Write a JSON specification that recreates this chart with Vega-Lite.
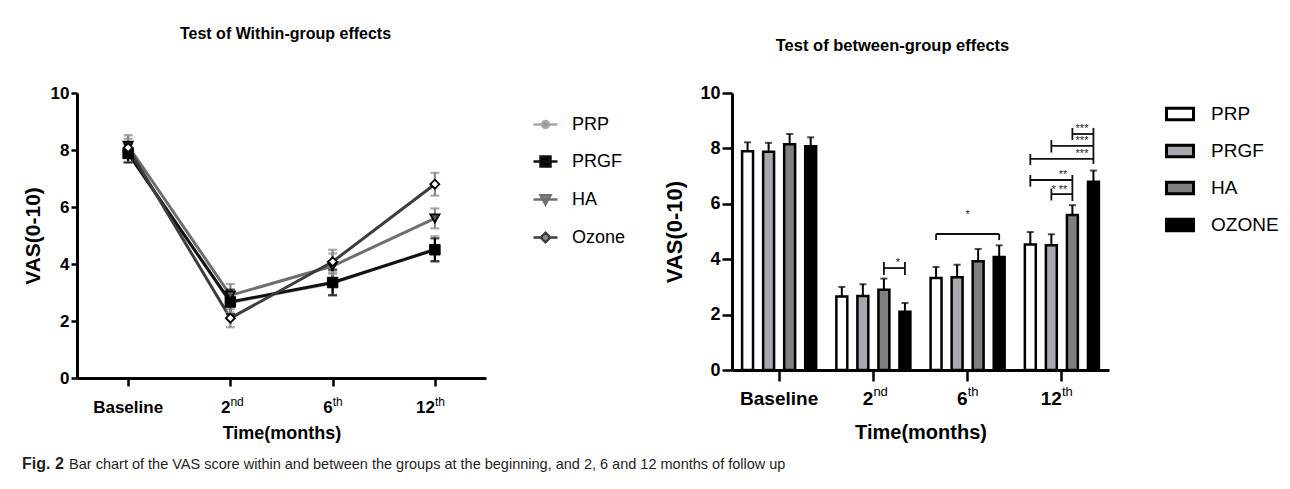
{
  "$schema": "https://vega.github.io/schema/vega-lite/v6.json",
  "background": "white",
  "padding": {"left": 22, "top": 26, "right": 5, "bottom": 5},
  "config": {
    "view": {"stroke": null},
    "axis": {"domainColor": "black", "tickColor": "black", "labelColor": "black", "titleColor": "black", "grid": false},
    "font": "Liberation Sans"
  },
  "datasets": {
    "vas": [
      {"time": "Baseline", "group": "PRP", "mean": 7.9, "lo": 7.58, "hi": 8.22},
      {"time": "Baseline", "group": "PRGF", "mean": 7.88, "lo": 7.56, "hi": 8.2},
      {"time": "Baseline", "group": "HA", "mean": 8.15, "lo": 7.78, "hi": 8.52},
      {"time": "Baseline", "group": "OZONE", "mean": 8.08, "lo": 7.76, "hi": 8.4},
      {"time": "2nd", "group": "PRP", "mean": 2.65, "lo": 2.3, "hi": 3.0},
      {"time": "2nd", "group": "PRGF", "mean": 2.67, "lo": 2.24, "hi": 3.1},
      {"time": "2nd", "group": "HA", "mean": 2.9, "lo": 2.5, "hi": 3.3},
      {"time": "2nd", "group": "OZONE", "mean": 2.1, "lo": 1.78, "hi": 2.42},
      {"time": "6th", "group": "PRP", "mean": 3.32, "lo": 2.92, "hi": 3.72},
      {"time": "6th", "group": "PRGF", "mean": 3.35, "lo": 2.9, "hi": 3.8},
      {"time": "6th", "group": "HA", "mean": 3.93, "lo": 3.49, "hi": 4.37},
      {"time": "6th", "group": "OZONE", "mean": 4.08, "lo": 3.66, "hi": 4.5},
      {"time": "12th", "group": "PRP", "mean": 4.53, "lo": 4.08, "hi": 4.98},
      {"time": "12th", "group": "PRGF", "mean": 4.5, "lo": 4.1, "hi": 4.9},
      {"time": "12th", "group": "HA", "mean": 5.6, "lo": 5.25, "hi": 5.95},
      {"time": "12th", "group": "OZONE", "mean": 6.8, "lo": 6.4, "hi": 7.2}
    ],
    "xlab": [
      {"time": "Baseline", "base": "Baseline", "sup": ""},
      {"time": "2nd", "base": "2", "sup": "nd"},
      {"time": "6th", "base": "6", "sup": "th"},
      {"time": "12th", "base": "12", "sup": "th"}
    ],
    "brl": [
      {"id": "b0", "time": "2nd", "grp": "HA", "y": 3.68},
      {"id": "b0", "time": "2nd", "grp": "OZONE", "y": 3.68},
      {"id": "b1", "time": "6th", "grp": "PRP", "y": 4.91},
      {"id": "b1", "time": "6th", "grp": "OZONE", "y": 4.91},
      {"id": "b2", "time": "12th", "grp": "HA", "y": 8.52},
      {"id": "b2", "time": "12th", "grp": "OZONE", "y": 8.52},
      {"id": "b3", "time": "12th", "grp": "PRGF", "y": 8.09},
      {"id": "b3", "time": "12th", "grp": "OZONE", "y": 8.09},
      {"id": "b4", "time": "12th", "grp": "PRP", "y": 7.62},
      {"id": "b4", "time": "12th", "grp": "OZONE", "y": 7.62},
      {"id": "b5", "time": "12th", "grp": "PRP", "y": 6.86},
      {"id": "b5", "time": "12th", "grp": "HA", "y": 6.86},
      {"id": "b6", "time": "12th", "grp": "PRGF", "y": 6.35},
      {"id": "b6", "time": "12th", "grp": "HA", "y": 6.35}
    ],
    "brt": [
      {"time": "2nd", "grp": "HA", "y1": 3.43, "y2": 3.9},
      {"time": "2nd", "grp": "OZONE", "y1": 3.43, "y2": 3.9},
      {"time": "6th", "grp": "PRP", "y1": 4.69, "y2": 4.91},
      {"time": "6th", "grp": "OZONE", "y1": 4.69, "y2": 4.91},
      {"time": "12th", "grp": "HA", "y1": 8.3, "y2": 8.74},
      {"time": "12th", "grp": "OZONE", "y1": 7.44, "y2": 8.74},
      {"time": "12th", "grp": "PRGF", "y1": 7.85, "y2": 8.3},
      {"time": "12th", "grp": "PRP", "y1": 7.4, "y2": 7.8},
      {"time": "12th", "grp": "PRP", "y1": 6.62, "y2": 7.04},
      {"time": "12th", "grp": "HA", "y1": 6.1, "y2": 7.04},
      {"time": "12th", "grp": "PRGF", "y1": 6.12, "y2": 6.55}
    ],
    "brlab": [
      {"time": "2nd", "grp": "OZONE", "y": 3.72, "label": "*"},
      {"time": "12th", "grp": "OZONE", "y": 8.54, "label": "***"},
      {"time": "12th", "grp": "OZONE", "y": 8.11, "label": "***"},
      {"time": "12th", "grp": "OZONE", "y": 7.64, "label": "***"},
      {"time": "12th", "grp": "HA", "y": 6.88, "label": "**"},
      {"time": "12th", "grp": "HA", "y": 6.37, "label": "* **"}
    ],
    "brlab6": [
      {"time": "6th", "y": 5.6, "label": "*"}
    ]
  },
  "title": {
    "text": "Bar chart of the VAS score within and between the groups at the beginning, and 2, 6 and 12 months of follow up",
    "orient": "bottom", "anchor": "start", "dx": 47, "dy": -14, "offset": 0,
    "font": "Liberation Sans", "fontSize": 14.5, "fontWeight": "normal", "color": "#231f20"
  },
  "vconcat": [
    {
      "title": {"text": "Fig. 2", "orient": "bottom", "anchor": "start", "offset": 14, "font": "Liberation Sans", "fontSize": 16, "fontWeight": "bold", "color": "#231f20"},
      "spacing": 19,
      "resolve": {"scale": {"color": "independent", "fill": "independent", "stroke": "independent", "shape": "independent"}, "legend": {"color": "independent", "fill": "independent"}},
      "hconcat": [
        {
          "width": 409,
          "height": 285,
          "title": {"text": "Test of  Within-group effects", "font": "Liberation Sans", "fontSize": 16, "fontWeight": "bold", "offset": 42, "dx": 4, "anchor": "middle", "frame": "group", "color": "black"},
          "layer": [
            {
              "data": {"name": "vas"},
              "mark": {"type": "line", "strokeWidth": 3},
              "encoding": {
                "x": {"field": "time", "type": "ordinal", "scale": {"type": "point", "domain": ["Baseline", "2nd", "6th", "12th"], "padding": 0.5},
                  "axis": {"title": "Time(months)", "labels": false, "tickSize": 8, "tickWidth": 2.5, "domainWidth": 3, "titleFont": "Liberation Sans", "titleFontSize": 18, "titleFontWeight": "bold", "titlePadding": 37}},
                "y": {"field": "mean", "type": "quantitative", "scale": {"domain": [0, 10]},
                  "axis": {"title": "VAS(0-10)", "values": [0, 2, 4, 6, 8, 10], "tickSize": 6, "tickWidth": 2.5, "domainWidth": 3, "labelFont": "Liberation Sans", "labelFontSize": 17, "labelFontWeight": "bold", "labelPadding": 2, "titleFont": "Liberation Sans", "titleFontSize": 21, "titleFontWeight": "bold", "titlePadding": 7}},
                "color": {"field": "group", "type": "nominal",
                  "scale": {"domain": ["PRP", "PRGF", "HA", "OZONE"], "range": ["#a8a8a8", "#111111", "#6f6f6f", "#3d3d3d"]},
                  "legend": {
                    "title": null, "orient": "right", "offset": 28, "padding": 18,
                    "symbolSize": 576, "symbolStrokeWidth": 2.4,
                    "labelFont": "Liberation Sans", "labelFontSize": 18, "labelColor": "black", "labelOffset": 13, "rowPadding": 14,
                    "labelExpr": "datum.label === 'OZONE' ? 'Ozone' : datum.label",
                    "encode": {"symbols": {"update": {
                      "shape": {"signal": "datum.value === 'PRP' ? 'M-1,0H-0.29M0.29,0H1M0.29,0A0.29,0.29,0,1,1,-0.29,0A0.29,0.29,0,1,1,0.29,0Z' : datum.value === 'PRGF' ? 'M-1,0H1M-0.42,-0.42H0.42V0.42H-0.42Z' : datum.value === 'HA' ? 'M-1,0H1M-0.42,-0.36H0.42L0,0.42Z' : 'M-1,0H-0.4M0.4,0H1M0,-0.4L0.4,0L0,0.4L-0.4,0Z'"},
                      "fill": {"signal": "datum.value === 'PRGF' ? 'black' : datum.value === 'HA' ? '#555555' : 'white'"},
                      "stroke": {"signal": "datum.value === 'PRP' ? '#333333' : datum.value === 'PRGF' ? 'black' : datum.value === 'HA' ? '#444444' : '#333333'"},
                      "strokeWidth": {"value": 2.4}
                    }}}
                  }}
              }
            },
            {
              "data": {"name": "vas"},
              "mark": {"type": "rule", "strokeWidth": 2.2},
              "encoding": {
                "x": {"field": "time", "type": "ordinal"},
                "y": {"field": "lo", "type": "quantitative"},
                "y2": {"field": "hi"},
                "stroke": {"field": "group", "type": "nominal", "scale": {"domain": ["PRP", "PRGF", "HA", "OZONE"], "range": ["#999999", "#000000", "#888888", "#888888"]}, "legend": null}
              }
            },
            {
              "data": {"name": "vas"},
              "mark": {"type": "tick", "orient": "horizontal", "size": 9, "thickness": 2.2},
              "encoding": {
                "x": {"field": "time", "type": "ordinal"},
                "y": {"field": "lo", "type": "quantitative"},
                "fill": {"field": "group", "type": "nominal", "scale": {"domain": ["PRP", "PRGF", "HA", "OZONE"], "range": ["#999999", "#000000", "#888888", "#888888"]}, "legend": null}
              }
            },
            {
              "data": {"name": "vas"},
              "mark": {"type": "tick", "orient": "horizontal", "size": 9, "thickness": 2.2},
              "encoding": {
                "x": {"field": "time", "type": "ordinal"},
                "y": {"field": "hi", "type": "quantitative"},
                "fill": {"field": "group", "type": "nominal", "legend": null}
              }
            },
            {
              "data": {"name": "vas"},
              "transform": [{"filter": "datum.group === 'PRP'"}],
              "mark": {"type": "point", "shape": "circle", "filled": true, "fill": "white", "stroke": "black", "strokeWidth": 2, "size": 50, "opacity": 1},
              "encoding": {"x": {"field": "time", "type": "ordinal"}, "y": {"field": "mean", "type": "quantitative"}}
            },
            {
              "data": {"name": "vas"},
              "transform": [{"filter": "datum.group === 'PRGF'"}],
              "mark": {"type": "point", "shape": "square", "filled": true, "fill": "black", "stroke": "black", "strokeWidth": 1, "size": 110, "opacity": 1},
              "encoding": {"x": {"field": "time", "type": "ordinal"}, "y": {"field": "mean", "type": "quantitative"}}
            },
            {
              "data": {"name": "vas"},
              "transform": [{"filter": "datum.group === 'HA'"}],
              "mark": {"type": "point", "shape": "triangle-down", "filled": true, "fill": "#555555", "stroke": "black", "strokeWidth": 1.8, "size": 85, "opacity": 1},
              "encoding": {"x": {"field": "time", "type": "ordinal"}, "y": {"field": "mean", "type": "quantitative"}}
            },
            {
              "data": {"name": "vas"},
              "transform": [{"filter": "datum.group === 'OZONE'"}],
              "mark": {"type": "point", "shape": "diamond", "filled": true, "fill": "white", "stroke": "black", "strokeWidth": 1.8, "size": 80, "opacity": 1},
              "encoding": {"x": {"field": "time", "type": "ordinal"}, "y": {"field": "mean", "type": "quantitative"}}
            },
            {
              "data": {"name": "xlab"},
              "transform": [{"filter": "datum.time === 'Baseline'"}],
              "mark": {"type": "text", "align": "center", "baseline": "top", "dy": 22, "font": "Liberation Sans", "fontSize": 17, "fontWeight": "bold", "color": "black"},
              "encoding": {"x": {"field": "time", "type": "ordinal"}, "y": {"datum": 0}, "text": {"field": "base"}}
            },
            {
              "data": {"name": "xlab"},
              "transform": [{"filter": "datum.time !== 'Baseline'"}],
              "mark": {"type": "text", "align": "right", "baseline": "top", "dy": 22, "font": "Liberation Sans", "fontSize": 17, "fontWeight": "bold", "color": "black"},
              "encoding": {"x": {"field": "time", "type": "ordinal"}, "y": {"datum": 0}, "text": {"field": "base"}}
            },
            {
              "data": {"name": "xlab"},
              "transform": [{"filter": "datum.time !== 'Baseline'"}],
              "mark": {"type": "text", "align": "left", "baseline": "top", "dy": 19, "font": "Liberation Sans", "fontSize": 12, "fontWeight": "normal", "color": "black"},
              "encoding": {"x": {"field": "time", "type": "ordinal"}, "y": {"datum": 0}, "text": {"field": "sup"}}
            }
          ]
        },
        {
          "width": 377,
          "height": 277,
          "title": {"text": "Test of between-group effects", "font": "Liberation Sans", "fontSize": 16.5, "fontWeight": "bold", "offset": 30, "dx": -28, "anchor": "middle", "frame": "group", "color": "black"},
          "layer": [
            {
              "data": {"name": "vas"},
              "mark": {"type": "bar", "stroke": "black", "strokeWidth": 2.5},
              "encoding": {
                "x": {"field": "time", "type": "nominal", "scale": {"domain": ["Baseline", "2nd", "6th", "12th"], "paddingInner": 0, "paddingOuter": 0},
                  "axis": {"title": "Time(months)", "labels": false, "bandPosition": 0.5, "tickSize": 11, "tickWidth": 2.5, "domainWidth": 3, "titleFont": "Liberation Sans", "titleFontSize": 20, "titleFontWeight": "bold", "titlePadding": 40}},
                "xOffset": {"field": "group", "type": "nominal", "scale": {"domain": ["PRP", "PRGF", "HA", "OZONE"], "paddingInner": 0.48, "paddingOuter": 0.48}},
                "y": {"field": "mean", "type": "quantitative", "scale": {"domain": [0, 10]},
                  "axis": {"title": "VAS(0-10)", "values": [0, 2, 4, 6, 8, 10], "tickSize": 10, "tickWidth": 2.5, "domainWidth": 3, "labelFont": "Liberation Sans", "labelFontSize": 18, "labelFontWeight": "bold", "labelPadding": 2, "titleFont": "Liberation Sans", "titleFontSize": 22, "titleFontWeight": "bold", "titlePadding": 13}},
                "fill": {"field": "group", "type": "nominal",
                  "scale": {"domain": ["PRP", "PRGF", "HA", "OZONE"], "range": ["white", "#a7a7ae", "#7f7f7f", "black"]},
                  "legend": {
                    "title": null, "orient": "right", "offset": 50, "padding": 6,
                    "symbolType": "M-1,-0.42H1V0.42H-1Z", "symbolSize": 729, "symbolStrokeColor": "black", "symbolStrokeWidth": 3,
                    "labelFont": "Liberation Sans", "labelFontSize": 19, "labelColor": "black", "labelOffset": 16, "rowPadding": 10,
                    "encode": {"symbols": {"update": {"stroke": {"value": "black"}, "strokeWidth": {"value": 3}}}}
                  }}
              }
            },
            {
              "data": {"name": "vas"},
              "mark": {"type": "rule", "strokeWidth": 2, "color": "black"},
              "encoding": {
                "x": {"field": "time", "type": "nominal"},
                "xOffset": {"field": "group", "type": "nominal"},
                "y": {"field": "mean", "type": "quantitative"},
                "y2": {"field": "hi"}
              }
            },
            {
              "data": {"name": "vas"},
              "mark": {"type": "tick", "orient": "horizontal", "size": 7, "thickness": 2, "color": "black"},
              "encoding": {
                "x": {"field": "time", "type": "nominal"},
                "xOffset": {"field": "group", "type": "nominal"},
                "y": {"field": "hi", "type": "quantitative"}
              }
            },
            {
              "data": {"name": "brl"},
              "mark": {"type": "line", "strokeWidth": 1.8, "color": "#111111"},
              "encoding": {
                "x": {"field": "time", "type": "nominal"},
                "xOffset": {"field": "grp", "type": "nominal"},
                "y": {"field": "y", "type": "quantitative"},
                "detail": {"field": "id"}
              }
            },
            {
              "data": {"name": "brt"},
              "mark": {"type": "rule", "strokeWidth": 1.8, "color": "#111111"},
              "encoding": {
                "x": {"field": "time", "type": "nominal"},
                "xOffset": {"field": "grp", "type": "nominal"},
                "y": {"field": "y1", "type": "quantitative"},
                "y2": {"field": "y2"}
              }
            },
            {
              "data": {"name": "brlab"},
              "mark": {"type": "text", "align": "right", "baseline": "bottom", "dx": -5, "dy": 1, "font": "Liberation Sans", "fontSize": 11, "color": "#222222"},
              "encoding": {
                "x": {"field": "time", "type": "nominal"},
                "xOffset": {"field": "grp", "type": "nominal"},
                "y": {"field": "y", "type": "quantitative"},
                "text": {"field": "label"}
              }
            },
            {
              "data": {"name": "brlab6"},
              "mark": {"type": "text", "align": "center", "baseline": "middle", "font": "Liberation Sans", "fontSize": 11, "color": "#222222"},
              "encoding": {
                "x": {"field": "time", "type": "nominal"},
                "y": {"field": "y", "type": "quantitative"},
                "text": {"field": "label"}
              }
            },
            {
              "data": {"name": "xlab"},
              "transform": [{"filter": "datum.time === 'Baseline'"}],
              "mark": {"type": "text", "align": "center", "baseline": "top", "dy": 20, "font": "Liberation Sans", "fontSize": 19, "fontWeight": "bold", "color": "black"},
              "encoding": {"x": {"field": "time", "type": "nominal"}, "y": {"datum": 0}, "text": {"field": "base"}}
            },
            {
              "data": {"name": "xlab"},
              "transform": [{"filter": "datum.time !== 'Baseline'"}],
              "mark": {"type": "text", "align": "right", "baseline": "top", "dy": 20, "font": "Liberation Sans", "fontSize": 19, "fontWeight": "bold", "color": "black"},
              "encoding": {"x": {"field": "time", "type": "nominal"}, "y": {"datum": 0}, "text": {"field": "base"}}
            },
            {
              "data": {"name": "xlab"},
              "transform": [{"filter": "datum.time !== 'Baseline'"}],
              "mark": {"type": "text", "align": "left", "baseline": "top", "dy": 16, "font": "Liberation Sans", "fontSize": 13, "fontWeight": "normal", "color": "black"},
              "encoding": {"x": {"field": "time", "type": "nominal"}, "y": {"datum": 0}, "text": {"field": "sup"}}
            }
          ]
        }
      ]
    }
  ]
}
